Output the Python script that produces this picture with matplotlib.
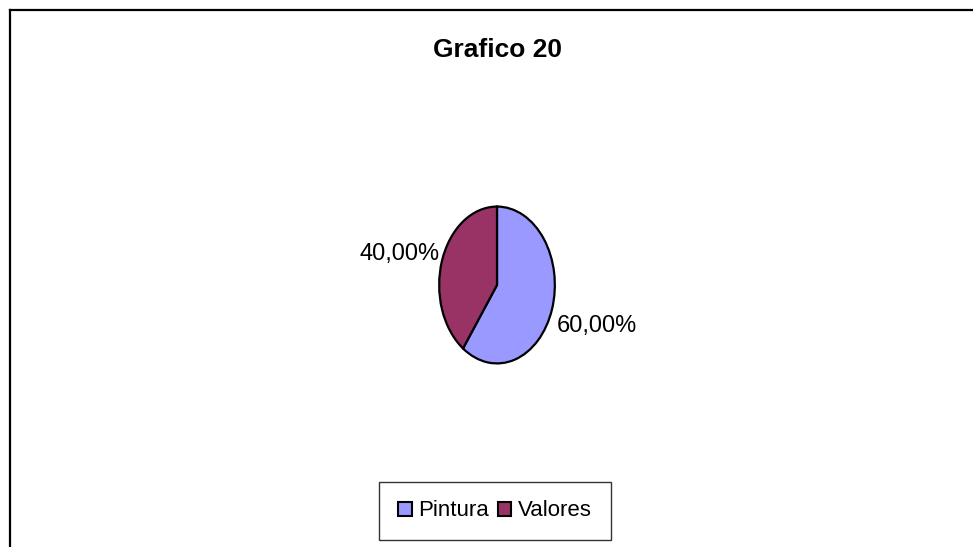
import numpy as np
import matplotlib.pyplot as plt
from matplotlib.lines import Line2D
from matplotlib.patches import Patch

plt.rcParams['font.family'] = ['Liberation Sans', 'DejaVu Sans']

categories = ['Pintura', 'Valores']
values = [60.0, 40.0]
colors = ['#9999FF', '#993366']
title = 'Grafico 20'

W, H = 973, 547


def fmt(v):
    return '{:.2f}%'.format(v).replace('.', ',')


def main():
    fig = plt.figure(figsize=(W / 100, H / 100), dpi=100)

    # outer frame (only top and left edge visible)
    fig.add_artist(Line2D([9.5 / W, 9.5 / W], [0, 1 - 9.5 / H], color='black', lw=1.6,
                          transform=fig.transFigure))
    fig.add_artist(Line2D([9.5 / W, 1], [1 - 9.5 / H, 1 - 9.5 / H], color='black', lw=1.6,
                          transform=fig.transFigure))

    fig.text(497 / W, 1 - 50 / H, title, ha='center', va='center',
             fontsize=19, fontweight='bold')

    # pie drawn as an ellipse
    ax = fig.add_axes([438 / W, (H - 365) / H, 118 / W, 160 / H])
    wedges, texts = ax.pie(values, colors=colors, startangle=90, counterclock=False,
                           labels=[fmt(v) for v in values], labeldistance=1.04,
                           wedgeprops=dict(edgecolor='black', linewidth=1.6),
                           textprops=dict(fontsize=17))
    ax.set_aspect('auto')
    ax.set_xlim(-1.02, 1.02)
    ax.set_ylim(-1.02, 1.02)
    x0, y0 = texts[0].get_position()
    texts[0].set_position((x0 + 0.05, y0 - 0.2))
    texts[1].set_y(texts[1].get_position()[1] + 0.08)

    handles = [Patch(facecolor=c, edgecolor='black', linewidth=1.5) for c in colors]
    leg = fig.legend(handles, categories, loc='center',
                     bbox_to_anchor=(495 / W, 1 - 511 / H), ncol=2, fontsize=16,
                     frameon=True, fancybox=False, shadow=False,
                     handlelength=0.6, handleheight=0.6, handletextpad=0.3,
                     columnspacing=0.4, borderpad=0.85, borderaxespad=0)
    leg.get_frame().set_edgecolor('black')
    leg.get_frame().set_linewidth(1.0)

    fig.savefig('out.png', dpi=100)


if __name__ == "__main__":
    main()
